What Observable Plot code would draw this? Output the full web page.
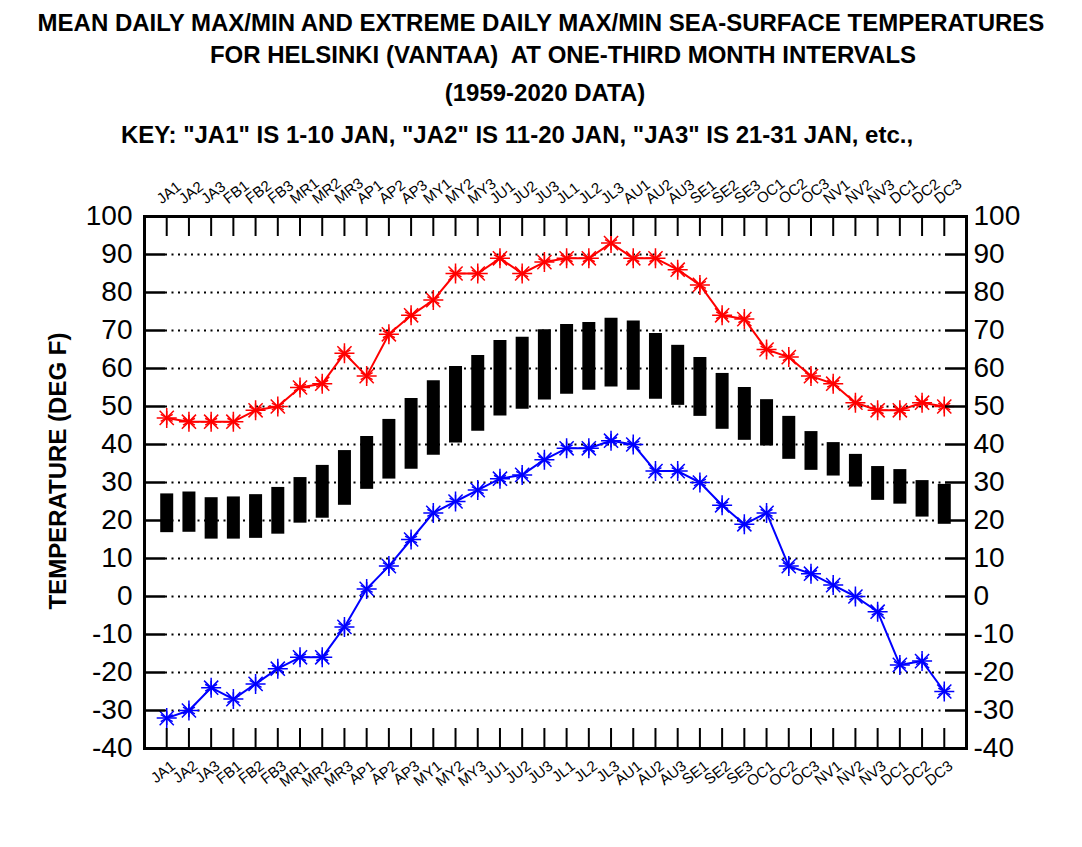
<!DOCTYPE html>
<html>
<head>
<meta charset="utf-8">
<script src="https://cdn.jsdelivr.net/npm/d3@7"></script>
<script src="https://cdn.jsdelivr.net/npm/@observablehq/plot@0.6"></script>
<style>
  html, body { margin: 0; padding: 0; background: #fff; }
  #wrap { position: relative; width: 1082px; height: 847px; overflow: hidden; font-family: "Liberation Sans", Arial, sans-serif; }
  .t { position: absolute; white-space: pre; font-weight: bold; color: #000; transform: translate(-50%, -50%); line-height: 1; font-size: 24px; }
  #chart { position: absolute; left: 0; top: 0; }
</style>
</head>
<body>
<div id="wrap">
  <div id="chart"></div>
  <div class="t" style="left:541px; top:23px;">MEAN DAILY MAX/MIN AND EXTREME DAILY MAX/MIN SEA-SURFACE TEMPERATURES</div>
  <div class="t" style="left:563px; top:55px;">FOR HELSINKI (VANTAA)  AT ONE-THIRD MONTH INTERVALS</div>
  <div class="t" style="left:545px; top:93px;">(1959-2020 DATA)</div>
  <div class="t" style="left:517px; top:135px;">KEY: "JA1" IS 1-10 JAN, "JA2" IS 11-20 JAN, "JA3" IS 21-31 JAN, etc.,</div>
  <div class="t" style="left:58px; top:471px; transform: translate(-50%, -50%) rotate(-90deg);">TEMPERATURE (DEG F)</div>
</div>
<script>
const periods = ["JA1","JA2","JA3","FB1","FB2","FB3","MR1","MR2","MR3","AP1","AP2","AP3",
                 "MY1","MY2","MY3","JU1","JU2","JU3","JL1","JL2","JL3","AU1","AU2","AU3",
                 "SE1","SE2","SE3","OC1","OC2","OC3","NV1","NV2","NV3","DC1","DC2","DC3"];
const extremeMax = [47,46,46,46,49,50,55,56,64,58,69,74,78,85,85,89,85,88,89,89,93,89,89,86,82,74,73,65,63,58,56,51,49,49,51,50];
const extremeMin = [-32,-30,-24,-27,-23,-19,-16,-16,-8,2,8,15,22,25,28,31,32,36,39,39,41,40,33,33,30,24,19,22,8,6,3,0,-4,-18,-17,-25];
const meanMax = [27,27.5,26,26.2,26.8,28.7,31.3,34.5,38.4,42.1,46.6,52.1,56.8,60.5,63.4,67.4,68.2,70.2,71.6,72.1,73.2,72.5,69.2,66.1,62.9,58.7,55,51.8,47.4,43.4,40.5,37.4,34.2,33.4,30.5,29.5];
const meanMin = [16.8,16.9,15.1,15.1,15.3,16.4,19.3,20.6,24,28.2,30.9,33.5,37.2,40.4,43.5,47.5,49.3,51.7,53.2,54.3,55.1,54.3,51.9,50.3,47.4,44,41.1,39.6,36.1,33.2,31.7,28.8,25.3,24.3,20.9,19];
const yTicks = [-40,-30,-20,-10,0,10,20,30,40,50,60,70,80,90,100];

const W = 1082, H = 847, mL = 144, mR = 116, mT = 216, mB = 99;
const fw = W - mL - mR, fh = H - mT - mB;
const idx = (d, i) => i;

const chart = Plot.plot({
  width: W, height: H,
  marginLeft: mL, marginRight: mR, marginTop: mT, marginBottom: mB,
  x: {domain: [-1, 36], axis: null},
  y: {domain: [-40, 100], axis: null},
  style: {fontFamily: "'Liberation Sans', Arial, sans-serif", background: "white", color: "black"},
  marks: [
    Plot.tickY(yTicks.filter(v => v > -40 && v < 100), {y: d => d, stroke: "black", strokeWidth: 1.8, strokeDasharray: "2,4.5", insetLeft: 21, insetRight: 21}),
    Plot.ruleX(periods, {x: idx, y1: (d, i) => meanMin[i], y2: (d, i) => meanMax[i], stroke: "black", strokeWidth: 13}),
    Plot.line(periods, {x: idx, y: (d, i) => extremeMax[i], stroke: "#ff0000", strokeWidth: 2}),
    Plot.line(periods, {x: idx, y: (d, i) => extremeMin[i], stroke: "#0000ff", strokeWidth: 2}),
    ...["asterisk", "times", "plus"].map(s => Plot.dot(periods, {x: idx, y: (d, i) => extremeMax[i], symbol: s, r: 6.5, stroke: "#ff0000", strokeWidth: 1.5})),
    ...["asterisk", "times", "plus"].map(s => Plot.dot(periods, {x: idx, y: (d, i) => extremeMin[i], symbol: s, r: 6.5, stroke: "#0000ff", strokeWidth: 1.5})),
    Plot.tickY(yTicks, {y: d => d, stroke: "black", strokeWidth: 2.5, insetRight: fw - 21}),
    Plot.tickY(yTicks, {y: d => d, stroke: "black", strokeWidth: 2.5, insetLeft: fw - 21}),
    Plot.tickX(periods, {x: idx, stroke: "black", strokeWidth: 2, insetBottom: fh - 20}),
    Plot.tickX(periods, {x: idx, stroke: "black", strokeWidth: 2, insetTop: fh - 20}),
    Plot.frame({stroke: "black", strokeWidth: 3}),
    Plot.axisY({anchor: "left", ticks: yTicks, tickSize: 0, tickPadding: 12, fontSize: 28, label: null, tickFormat: d => String(d)}),
    Plot.axisY({anchor: "right", ticks: yTicks, tickSize: 0, tickPadding: 7, fontSize: 28, label: null, tickFormat: d => String(d)}),
    Plot.text(periods, {x: idx, frameAnchor: "top", text: d => d, rotate: -38, textAnchor: "start", lineAnchor: "bottom", dx: -5, dy: -12, fontSize: 15}),
    Plot.text(periods, {x: idx, frameAnchor: "bottom", text: d => d, rotate: -38, textAnchor: "end", lineAnchor: "top", dx: 3, dy: 11, fontSize: 15})
  ]
});
document.getElementById("chart").appendChild(chart);
</script>
</body>
</html>
